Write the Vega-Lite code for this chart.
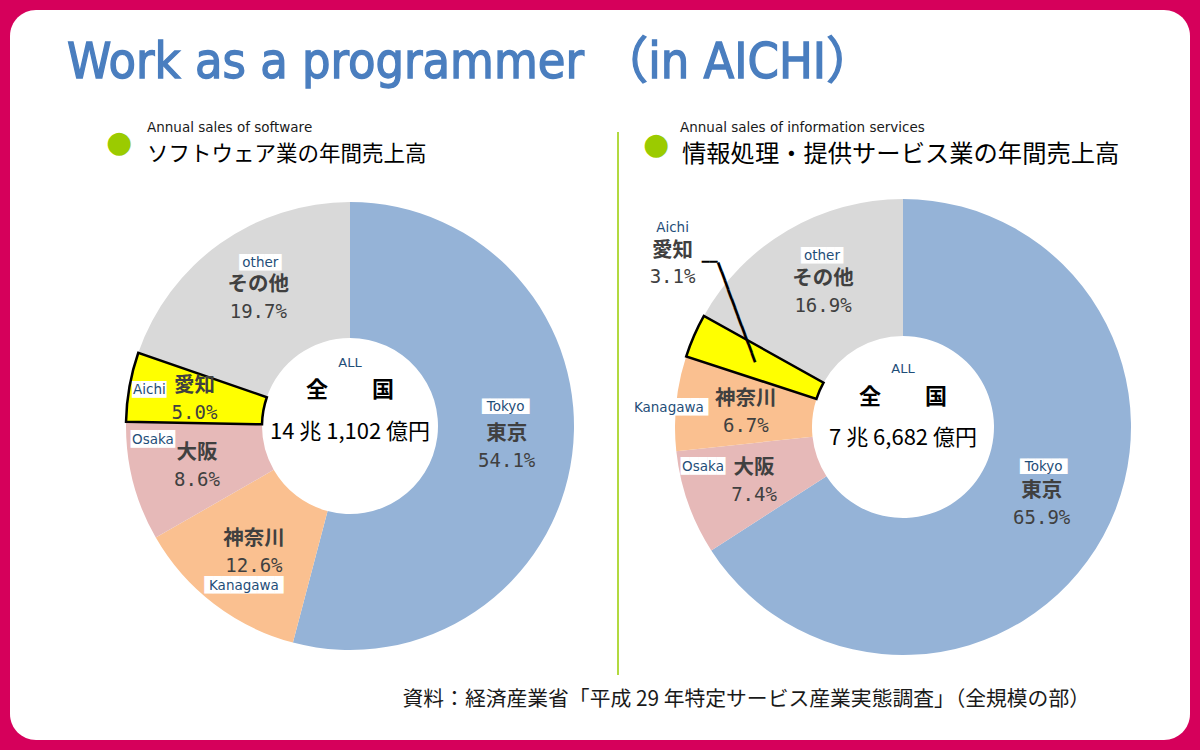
{
"$schema": "https://vega.github.io/schema/vega-lite/v6.json",
"width": 1200, "height": 750,
"autosize": {"type": "fit", "contains": "padding"},
"padding": 10,
"background": "#d6005b",
"config": {"view": {"fill": "#ffffff", "stroke": null, "cornerRadius": 26}, "font": "Noto Sans CJK JP"},
"datasets": {
 "slices": [
  {"panel": "software", "region": "東京", "region_en": "Tokyo", "share": 0.541, "order": 1},
  {"panel": "software", "region": "神奈川", "region_en": "Kanagawa", "share": 0.126, "order": 2},
  {"panel": "software", "region": "大阪", "region_en": "Osaka", "share": 0.086, "order": 3},
  {"panel": "software", "region": "愛知", "region_en": "Aichi", "share": 0.050, "order": 4},
  {"panel": "software", "region": "その他", "region_en": "other", "share": 0.197, "order": 5},
  {"panel": "info", "region": "東京", "region_en": "Tokyo", "share": 0.659, "order": 1},
  {"panel": "info", "region": "大阪", "region_en": "Osaka", "share": 0.074, "order": 2},
  {"panel": "info", "region": "神奈川", "region_en": "Kanagawa", "share": 0.067, "order": 3},
  {"panel": "info", "region": "愛知", "region_en": "Aichi", "share": 0.031, "order": 4},
  {"panel": "info", "region": "その他", "region_en": "other", "share": 0.169, "order": 5}
 ],
 "panels": [
  {"panel": "software", "heading_en": "Annual sales of software", "heading_ja": "ソフトウェア業の年間売上高", "total": "14 兆 1,102 億円"},
  {"panel": "info", "heading_en": "Annual sales of information services", "heading_ja": "情報処理・提供サービス業の年間売上高", "total": "7 兆 6,682 億円"}
 ]
},
"layer": [
 {
  "data": {"name": "slices"},
  "transform": [{"filter": "datum.panel === 'software'"}],
  "encoding": {
   "x": {"field": "panel", "type": "nominal", "scale": {"type": "point", "domain": ["software", "info"], "range": [340, 893], "padding": 0}, "axis": null},
   "y": {"field": "panel", "type": "nominal", "scale": {"type": "point", "domain": ["software", "info"], "range": [416, 417], "padding": 0}, "axis": null},
   "theta": {"field": "share", "type": "quantitative", "stack": true, "scale": {"domain": [0, 1]}},
   "order": {"field": "order", "type": "quantitative"}
  },
  "layer": [
   {"mark": {"type": "arc", "outerRadius": 224, "innerRadius": 88},
    "encoding": {"color": {"field": "region_en", "type": "nominal", "scale": {"domain": ["Tokyo", "Kanagawa", "Osaka", "Aichi", "other"], "range": ["#95b3d7", "#fac090", "#e6b9b8", "#ffff00", "#d9d9d9"]}, "legend": null}}},
   {"mark": {"type": "arc", "outerRadius": 224, "innerRadius": 88, "fill": "#ffff00", "stroke": "#000000", "strokeWidth": 2.5, "strokeJoin": "miter"},
    "encoding": {"opacity": {"condition": {"test": "datum.region_en === 'Aichi'", "value": 1}, "value": 0}}},
   {"mark": {"type": "text", "radius": 158, "dy": -12, "font": "Noto Sans CJK JP", "fontSize": 20.5, "fontWeight": "bold", "fill": "#404040"},
    "encoding": {"text": {"field": "region"}}},
   {"mark": {"type": "text", "radius": 158, "dy": 15, "font": "DejaVu Sans Mono", "fontSize": 19, "fill": "#404040"},
    "encoding": {"text": {"field": "share", "type": "quantitative", "format": ".1%"}}},
   {"mark": {"type": "text", "radius": 158, "dx": -1, "dy": -39, "font": "DejaVu Sans Mono", "fontSize": 13.2, "fill": "#ffffff", "text": "██████"},
    "encoding": {"opacity": {"condition": {"test": "datum.region_en === 'Tokyo'", "value": 1}, "value": 0}}},
   {"mark": {"type": "text", "radius": 158, "dx": -1, "dy": -39, "font": "DejaVu Sans", "fontSize": 13.5, "fill": "#1f4e79"},
    "encoding": {"text": {"field": "region_en"}, "opacity": {"condition": {"test": "datum.region_en === 'Tokyo'", "value": 1}, "value": 0}}},
   {"mark": {"type": "text", "radius": 158, "dx": 2, "dy": -34, "font": "DejaVu Sans Mono", "fontSize": 14, "fill": "#ffffff", "text": "█████"},
    "encoding": {"opacity": {"condition": {"test": "datum.region_en === 'other'", "value": 1}, "value": 0}}},
   {"mark": {"type": "text", "radius": 158, "dx": 2, "dy": -34, "font": "DejaVu Sans", "fontSize": 13.5, "fill": "#1f4e79"},
    "encoding": {"text": {"field": "region_en"}, "opacity": {"condition": {"test": "datum.region_en === 'other'", "value": 1}, "value": 0}}},
   {"mark": {"type": "text", "radius": 158, "dx": -10, "dy": 35, "font": "DejaVu Sans Mono", "fontSize": 14.6, "fill": "#ffffff", "text": "█████████"},
    "encoding": {"opacity": {"condition": {"test": "datum.region_en === 'Kanagawa'", "value": 1}, "value": 0}}},
   {"mark": {"type": "text", "radius": 158, "dx": -10, "dy": 35, "font": "DejaVu Sans", "fontSize": 13.5, "fill": "#1f4e79"},
    "encoding": {"text": {"field": "region_en"}, "opacity": {"condition": {"test": "datum.region_en === 'Kanagawa'", "value": 1}, "value": 0}}},
   {"mark": {"type": "text", "radius": 158, "dx": -44, "dy": -25, "font": "DejaVu Sans Mono", "fontSize": 14.8, "fill": "#ffffff", "text": "█████"},
    "encoding": {"opacity": {"condition": {"test": "datum.region_en === 'Osaka'", "value": 1}, "value": 0}}},
   {"mark": {"type": "text", "radius": 158, "dx": -44, "dy": -25, "font": "DejaVu Sans", "fontSize": 13.5, "fill": "#1f4e79"},
    "encoding": {"text": {"field": "region_en"}, "opacity": {"condition": {"test": "datum.region_en === 'Osaka'", "value": 1}, "value": 0}}},
   {"mark": {"type": "text", "radius": 158, "dx": -45, "dy": -8, "font": "DejaVu Sans Mono", "fontSize": 14.2, "fill": "#ffffff", "text": "████"},
    "encoding": {"opacity": {"condition": {"test": "datum.region_en === 'Aichi'", "value": 1}, "value": 0}}},
   {"mark": {"type": "text", "radius": 158, "dx": -45, "dy": -8, "font": "DejaVu Sans", "fontSize": 13.5, "fill": "#1f4e79"},
    "encoding": {"text": {"field": "region_en"}, "opacity": {"condition": {"test": "datum.region_en === 'Aichi'", "value": 1}, "value": 0}}}
  ]
 },
 {
  "data": {"name": "slices"},
  "transform": [{"filter": "datum.panel === 'info'"}],
  "encoding": {
   "x": {"field": "panel", "type": "nominal", "scale": {"type": "point", "domain": ["software", "info"], "range": [340, 893], "padding": 0}, "axis": null},
   "y": {"field": "panel", "type": "nominal", "scale": {"type": "point", "domain": ["software", "info"], "range": [416, 417], "padding": 0}, "axis": null},
   "theta": {"field": "share", "type": "quantitative", "stack": true, "scale": {"domain": [0, 1]}},
   "order": {"field": "order", "type": "quantitative"}
  },
  "layer": [
   {"mark": {"type": "arc", "outerRadius": 228, "innerRadius": 91},
    "encoding": {"color": {"field": "region_en", "type": "nominal", "scale": {"domain": ["Tokyo", "Kanagawa", "Osaka", "Aichi", "other"], "range": ["#95b3d7", "#fac090", "#e6b9b8", "#ffff00", "#d9d9d9"]}, "legend": null}}},
   {"mark": {"type": "arc", "outerRadius": 228, "innerRadius": 91, "fill": "#ffff00", "stroke": "#000000", "strokeWidth": 2.5, "strokeJoin": "miter"},
    "encoding": {"opacity": {"condition": {"test": "datum.region_en === 'Aichi'", "value": 1}, "value": 0}}},
   {"mark": {"type": "text", "radius": 158, "dy": -12, "font": "Noto Sans CJK JP", "fontSize": 20.5, "fontWeight": "bold", "fill": "#404040"},
    "encoding": {"text": {"field": "region"}, "opacity": {"condition": {"test": "datum.region_en === 'Aichi'", "value": 0}, "value": 1}}},
   {"mark": {"type": "text", "radius": 158, "dy": 15, "font": "DejaVu Sans Mono", "fontSize": 19, "fill": "#404040"},
    "encoding": {"text": {"field": "share", "type": "quantitative", "format": ".1%"}, "opacity": {"condition": {"test": "datum.region_en === 'Aichi'", "value": 0}, "value": 1}}},
   {"mark": {"type": "text", "radius": 158, "dx": 2, "dy": -36, "font": "DejaVu Sans Mono", "fontSize": 13.2, "fill": "#ffffff", "text": "██████"},
    "encoding": {"opacity": {"condition": {"test": "datum.region_en === 'Tokyo'", "value": 1}, "value": 0}}},
   {"mark": {"type": "text", "radius": 158, "dx": 2, "dy": -36, "font": "DejaVu Sans", "fontSize": 13.5, "fill": "#1f4e79"},
    "encoding": {"text": {"field": "region_en"}, "opacity": {"condition": {"test": "datum.region_en === 'Tokyo'", "value": 1}, "value": 0}}},
   {"mark": {"type": "text", "radius": 158, "dx": -1, "dy": -35, "font": "DejaVu Sans Mono", "fontSize": 14, "fill": "#ffffff", "text": "█████"},
    "encoding": {"opacity": {"condition": {"test": "datum.region_en === 'other'", "value": 1}, "value": 0}}},
   {"mark": {"type": "text", "radius": 158, "dx": -1, "dy": -35, "font": "DejaVu Sans", "fontSize": 13.5, "fill": "#1f4e79"},
    "encoding": {"text": {"field": "region_en"}, "opacity": {"condition": {"test": "datum.region_en === 'other'", "value": 1}, "value": 0}}},
   {"mark": {"type": "text", "radius": 158, "dx": -51, "dy": -13, "font": "DejaVu Sans Mono", "fontSize": 14.8, "fill": "#ffffff", "text": "█████"},
    "encoding": {"opacity": {"condition": {"test": "datum.region_en === 'Osaka'", "value": 1}, "value": 0}}},
   {"mark": {"type": "text", "radius": 158, "dx": -51, "dy": -13, "font": "DejaVu Sans", "fontSize": 13.5, "fill": "#1f4e79"},
    "encoding": {"text": {"field": "region_en"}, "opacity": {"condition": {"test": "datum.region_en === 'Osaka'", "value": 1}, "value": 0}}},
   {"mark": {"type": "text", "radius": 158, "dx": -77, "dy": -3, "font": "DejaVu Sans Mono", "fontSize": 14.6, "fill": "#ffffff", "text": "█████████"},
    "encoding": {"opacity": {"condition": {"test": "datum.region_en === 'Kanagawa'", "value": 1}, "value": 0}}},
   {"mark": {"type": "text", "radius": 158, "dx": -77, "dy": -3, "font": "DejaVu Sans", "fontSize": 13.5, "fill": "#1f4e79"},
    "encoding": {"text": {"field": "region_en"}, "opacity": {"condition": {"test": "datum.region_en === 'Kanagawa'", "value": 1}, "value": 0}}},
   {"mark": {"type": "text", "radius": 162, "dx": -82, "dy": -134, "font": "DejaVu Sans", "fontSize": 13.5, "fill": "#1f4e79"},
    "encoding": {"text": {"field": "region_en"}, "opacity": {"condition": {"test": "datum.region_en === 'Aichi'", "value": 1}, "value": 0}}},
   {"mark": {"type": "text", "radius": 162, "dx": -82, "dy": -111, "font": "Noto Sans CJK JP", "fontSize": 20.5, "fontWeight": "bold", "fill": "#404040"},
    "encoding": {"text": {"field": "region"}, "opacity": {"condition": {"test": "datum.region_en === 'Aichi'", "value": 1}, "value": 0}}},
   {"mark": {"type": "text", "radius": 162, "dx": -82, "dy": -85, "font": "DejaVu Sans Mono", "fontSize": 19, "fill": "#404040"},
    "encoding": {"text": {"field": "share", "type": "quantitative", "format": ".1%"}, "opacity": {"condition": {"test": "datum.region_en === 'Aichi'", "value": 1}, "value": 0}}},
   {"mark": {"type": "text", "radius": 162, "angle": 69.7, "align": "right", "font": "DejaVu Sans Mono", "fontSize": 16, "fill": "#000000", "text": "━━━━━━━━━━━"},
    "encoding": {"opacity": {"condition": {"test": "datum.region_en === 'Aichi'", "value": 1}, "value": 0}}},
   {"mark": {"type": "text", "radius": 162, "dx": -37, "dy": -100, "align": "right", "font": "DejaVu Sans Mono", "fontSize": 13, "fill": "#000000", "text": "━━"},
    "encoding": {"opacity": {"condition": {"test": "datum.region_en === 'Aichi'", "value": 1}, "value": 0}}}
  ]
 },
 {
  "data": {"name": "panels"},
  "encoding": {
   "x": {"field": "panel", "type": "nominal", "scale": {"type": "point", "domain": ["software", "info"], "range": [340, 893], "padding": 0}, "axis": null},
   "y": {"field": "panel", "type": "nominal", "scale": {"type": "point", "domain": ["software", "info"], "range": [416, 417], "padding": 0}, "axis": null}
  },
  "layer": [
   {"transform": [{"filter": "datum.panel === 'software'"}],
    "mark": {"type": "text", "text": "Work as a programmer （in AICHI）", "font": "DejaVu Sans Condensed, Noto Sans CJK JP", "fontSize": 50, "fill": "#4a7ebf", "stroke": "#4a7ebf", "strokeWidth": 1.3, "align": "left", "baseline": "alphabetic", "dx": -283, "dy": -348}},
   {"transform": [{"filter": "datum.panel === 'software'"}],
    "mark": {"type": "text", "text": "●", "font": "DejaVu Sans", "fontSize": 30, "fill": "#9bcb00", "dx": -231, "dy": -283}},
   {"transform": [{"filter": "datum.panel === 'software'"}],
    "mark": {"type": "text", "font": "DejaVu Sans", "fontSize": 13.5, "fill": "#1a1a1a", "dx": -203, "dy": -298, "align": "left"},
    "encoding": {"text": {"field": "heading_en"}}},
   {"transform": [{"filter": "datum.panel === 'software'"}],
    "mark": {"type": "text", "font": "Noto Sans CJK JP", "fontSize": 21.5, "fill": "#000000", "dx": -203, "dy": -271, "align": "left"},
    "encoding": {"text": {"field": "heading_ja"}}},
   {"transform": [{"filter": "datum.panel === 'software'"}],
    "mark": {"type": "text", "text": "ALL", "font": "DejaVu Sans", "fontSize": 13, "fill": "#1f4e79", "dy": -63}},
   {"transform": [{"filter": "datum.panel === 'software'"}],
    "mark": {"type": "text", "text": "全　　国", "font": "Noto Sans CJK JP", "fontSize": 22, "fontWeight": "bold", "fill": "#000000", "dy": -36}},
   {"transform": [{"filter": "datum.panel === 'software'"}],
    "mark": {"type": "text", "font": "Noto Sans CJK JP", "fontSize": 22, "fill": "#000000", "dy": 6},
    "encoding": {"text": {"field": "total"}}},
   {"transform": [{"filter": "datum.panel === 'info'"}],
    "mark": {"type": "text", "text": "●", "font": "DejaVu Sans", "fontSize": 30, "fill": "#9bcb00", "dx": -247, "dy": -282}},
   {"transform": [{"filter": "datum.panel === 'info'"}],
    "mark": {"type": "text", "font": "DejaVu Sans", "fontSize": 13.5, "fill": "#1a1a1a", "dx": -223, "dy": -299, "align": "left"},
    "encoding": {"text": {"field": "heading_en"}}},
   {"transform": [{"filter": "datum.panel === 'info'"}],
    "mark": {"type": "text", "font": "Noto Sans CJK JP", "fontSize": 24.3, "fill": "#000000", "dx": -221, "dy": -272, "align": "left"},
    "encoding": {"text": {"field": "heading_ja"}}},
   {"transform": [{"filter": "datum.panel === 'info'"}],
    "mark": {"type": "text", "text": "ALL", "font": "DejaVu Sans", "fontSize": 13, "fill": "#1f4e79", "dy": -58}},
   {"transform": [{"filter": "datum.panel === 'info'"}],
    "mark": {"type": "text", "text": "全　　国", "font": "Noto Sans CJK JP", "fontSize": 22, "fontWeight": "bold", "fill": "#000000", "dy": -30}},
   {"transform": [{"filter": "datum.panel === 'info'"}],
    "mark": {"type": "text", "font": "Noto Sans CJK JP", "fontSize": 22, "fill": "#000000", "dy": 11},
    "encoding": {"text": {"field": "total"}}},
   {"transform": [{"filter": "datum.panel === 'info'"}],
    "mark": {"type": "text", "text": "資料：経済産業省「平成 29 年特定サービス産業実態調査」（全規模の部）", "font": "Noto Sans CJK JP", "fontSize": 20.8, "fill": "#1a1a1a", "align": "right", "dx": 187, "dy": 273}}
  ]
 },
 {
  "data": {"values": [{}]},
  "mark": {"type": "rule", "color": "#99cc00", "strokeWidth": 1.5},
  "encoding": {"x": {"value": 608}, "y": {"value": 122}, "y2": {"value": 665}}
 }
]
}
